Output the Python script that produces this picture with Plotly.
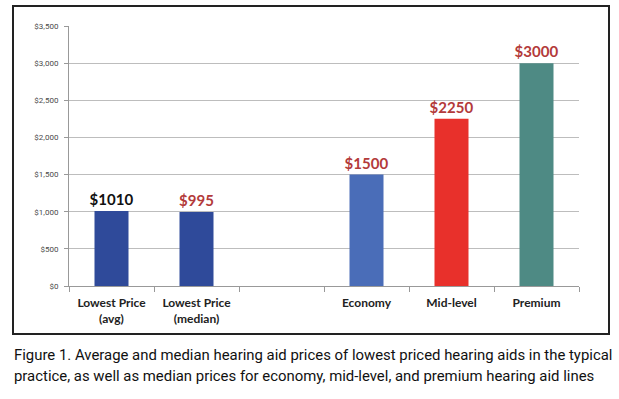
import plotly.graph_objects as go

categories = ["Lowest Price<br>(avg)", "Lowest Price<br>(median)", " ", "Economy", "Mid-level", "Premium"]
prices = [1010, 995, None, 1500, 2250, 3000]
value_labels = ["$1010", "$995", "", "$1500", "$2250", "$3000"]
bar_colors = ["#2F4A9A", "#2F4A9A", "#FFFFFF", "#4A6DB8", "#E8302B", "#4E8A84"]
label_colors = ["#111111", "#B33A3A", "#B33A3A", "#B33A3A", "#B33A3A", "#B33A3A"]
y_ticks = [0, 500, 1000, 1500, 2000, 2500, 3000, 3500]
caption_lines = [
    "Figure 1. Average and median hearing aid prices of lowest priced hearing aids in the typical",
    "practice, as well as median prices for economy, mid-level, and premium hearing aid lines",
]

W, H = 619, 399
L, R, T, B = 69, 579, 26, 286
pw, ph = R - L, B - T

def px(x):
    return (x - L) / pw

def py(y):
    return (B - y) / ph

fig = go.Figure()
fig.add_trace(go.Bar(
    x=categories, y=prices, width=0.4,
    marker=dict(color=bar_colors, line=dict(width=0)),
    text=value_labels, textposition="outside", cliponaxis=False, constraintext="none",
    textfont=dict(family="Lato, Open Sans, sans-serif", size=15, color=label_colors, weight="bold"),
    hoverinfo="skip",
))

fig.update_layout(
    width=W, height=H,
    margin=dict(l=L, r=W - R, t=T, b=H - B),
    paper_bgcolor="white", plot_bgcolor="white",
    showlegend=False,
    xaxis=dict(
        type="category", tickson="boundaries", ticks="outside", ticklen=5,
        tickcolor="#999999", showline=True, linecolor="#999999", linewidth=1,
        showgrid=False, ticklabelstandoff=6,
        tickfont=dict(family="Lato, Open Sans, sans-serif", size=12, color="#222222", weight="bold"),
    ),
    yaxis=dict(
        range=[0, 3500], tickvals=y_ticks, tickformat="$,.0f",
        showgrid=True, gridcolor="#BDBDBD", gridwidth=1,
        showline=True, linecolor="#999999", linewidth=1,
        ticks="outside", ticklen=4, tickcolor="#999999",
        zeroline=False, ticklabelstandoff=4,
        tickfont=dict(family="Roboto, sans-serif", size=8, color="#4A4A4A"),
    ),
    shapes=[dict(
        type="rect", xref="paper", yref="paper",
        x0=px(13), x1=px(609), y0=py(334), y1=py(6),
        line=dict(color="#222222", width=2), fillcolor="rgba(0,0,0,0)", layer="below",
    )],
    annotations=[
        dict(
            xref="paper", yref="paper", x=px(12), y=py(yc),
            xanchor="left", yanchor="middle", align="left", showarrow=False,
            text=line,
            font=dict(family="Roboto, sans-serif", size=14.9, color="#111111"),
        )
        for line, yc in zip(caption_lines, [355, 376])
    ],
)

fig.write_html(
    "out.html",
    config={"displayModeBar": False},
    post_script="document.body.style.margin='0';document.body.style.overflow='hidden';",
)
